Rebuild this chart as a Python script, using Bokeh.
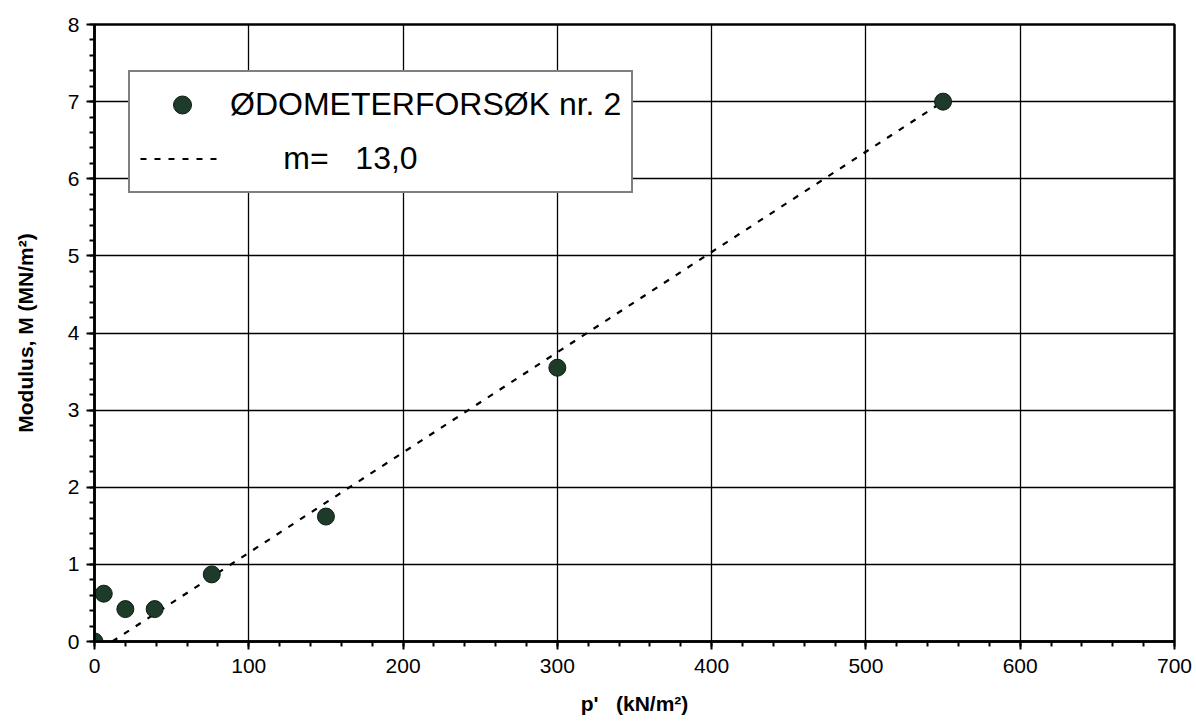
from bokeh.plotting import figure
from bokeh.models import Range1d, SingleIntervalTicker, Legend, LegendItem
from bokeh.embed import file_html
from bokeh.resources import INLINE

# Data
p_kN = [0, 6, 20, 39, 76, 150, 300, 550]
M_MN = [0.0, 0.62, 0.42, 0.42, 0.87, 1.62, 3.55, 7.0]
trend_p = [11.5, 550]
trend_M = [0.0, 7.0]
series_label = "ØDOMETERFORSØK nr. 2"
trend_label = "\u00a0" * 6 + "m=\u00a0\u00a0\u00a013,0"
x_label = "p'\u00a0\u00a0\u00a0(kN/m²)"
y_label = "Modulus, M (MN/m²)"

FONT = "Liberation Sans"

p = figure(width=1196, height=727, output_backend="svg", toolbar_location=None,
           x_range=Range1d(0, 700), y_range=Range1d(0, 8),
           min_border_left=94, min_border_right=22, min_border_top=24, min_border_bottom=86)
p.background_fill_color = "white"
p.border_fill_color = "white"
p.outline_line_color = "black"
p.outline_line_width = 2.5

p.xaxis.ticker = SingleIntervalTicker(interval=100, num_minor_ticks=5)
p.yaxis.ticker = SingleIntervalTicker(interval=1, num_minor_ticks=5)

for ax in (p.xaxis[0], p.yaxis[0]):
    ax.axis_line_color = "black"
    ax.axis_line_width = 2.5
    ax.major_tick_in = 0
    ax.major_tick_out = 8
    ax.minor_tick_in = 0
    ax.minor_tick_out = 5
    ax.major_tick_line_width = 2
    ax.minor_tick_line_width = 2
    ax.major_tick_line_color = "black"
    ax.minor_tick_line_color = "black"
    ax.major_label_text_font = FONT
    ax.major_label_text_font_size = "21px"
    ax.major_label_text_color = "black"
    ax.axis_label_text_font = FONT
    ax.axis_label_text_font_size = "21px"
    ax.axis_label_text_font_style = "bold"
    ax.axis_label_text_color = "black"

p.xaxis.axis_label = x_label
p.yaxis.axis_label = y_label
p.xaxis.major_label_standoff = 9
p.xaxis.axis_label_standoff = 16
p.yaxis.major_label_standoff = 7
p.yaxis.axis_label_standoff = 28

p.xgrid.grid_line_color = "black"
p.ygrid.grid_line_color = "black"
p.xgrid.grid_line_width = 1.3
p.ygrid.grid_line_width = 1.3

r_line = p.line(trend_p, trend_M, line_color="black", line_width=2.2, line_dash="6 8")
r_pts = p.scatter(p_kN, M_MN, size=17, fill_color="#1e3a29", line_color="#0d1a12", line_width=1)

legend = Legend(items=[LegendItem(label=series_label, renderers=[r_pts]),
                       LegendItem(label=trend_label, renderers=[r_line])],
                location=(34, 448), margin=0, padding=10, spacing=9,
                glyph_width=84, glyph_height=45, label_height=45, label_standoff=6,
                label_text_font=FONT, label_text_font_size="32px", label_text_color="black",
                border_line_color="black", border_line_width=2.5,
                background_fill_color="white", background_fill_alpha=1.0)
p.add_layout(legend)

open("out.html", "w").write(file_html(p, INLINE))
